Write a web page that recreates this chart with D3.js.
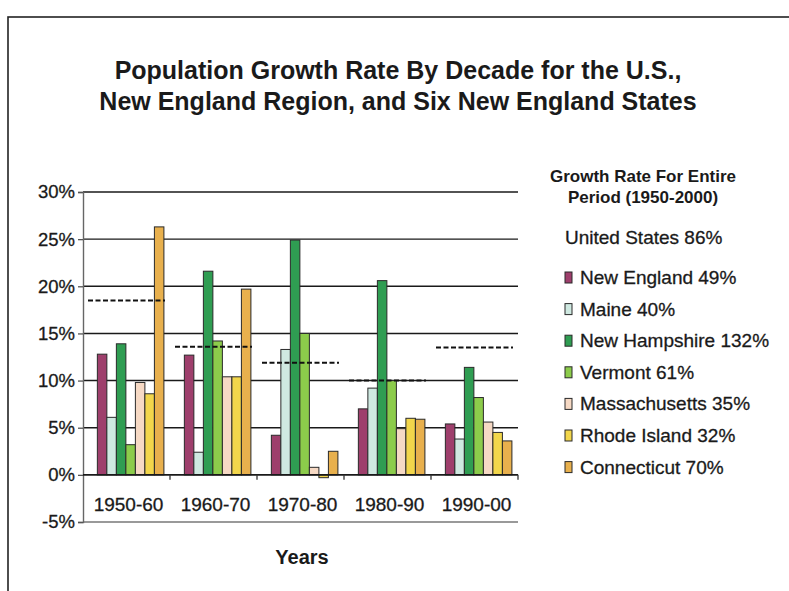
<!DOCTYPE html>
<html>
<head>
<meta charset="utf-8">
<script src="https://cdn.jsdelivr.net/npm/d3@7"></script>
<style>
  html, body { margin: 0; padding: 0; background: #fff; }
  svg { display: block; font-family: "Liberation Sans", Arial, sans-serif; }
</style>
</head>
<body>
<svg id="chart" width="789" height="591"></svg>
<script>
// Decades on the x axis
const decades = ["1950-60", "1960-70", "1970-80", "1980-90", "1990-00"];

// Growth rate (%) per decade for each area
const newEngland    = [12.8, 12.7, 4.2, 7.0, 5.4];
const maine         = [6.1, 2.4, 13.3, 9.2, 3.8];
const newHampshire  = [13.9, 21.6, 24.9, 20.6, 11.4];
const vermont       = [3.2, 14.2, 15.0, 10.0, 8.2];
const massachusetts = [9.8, 10.4, 0.8, 4.9, 5.6];
const rhodeIsland   = [8.6, 10.4, -0.3, 6.0, 4.5];
const connecticut   = [26.3, 19.7, 2.5, 5.9, 3.6];

// U.S. growth rate per decade (dashed reference lines)
const unitedStates  = [18.5, 13.6, 11.9, 10.0, 13.5];

// Legend text: growth over the entire 1950-2000 period
const seriesNames = ["New England", "Maine", "New Hampshire", "Vermont",
                     "Massachusetts", "Rhode Island", "Connecticut"];
const periodGrowth = [49, 40, 132, 61, 35, 32, 70];
const usPeriodGrowth = 86;

const seriesColors = ["#9e3f6c", "#cfe9e1", "#2f9d52", "#8ccc4b",
                      "#f6d9c4", "#f2d64b", "#e8b04d"];

// y axis tick values
const yTicks = [-5, 0, 5, 10, 15, 20, 25, 30];

const seriesValues = [newEngland, maine, newHampshire, vermont,
                      massachusetts, rhodeIsland, connecticut];

const svg = d3.select("#chart");

// outer frame
svg.append("rect")
  .attr("x", 8).attr("y", 17)
  .attr("width", 800).attr("height", 600)
  .attr("fill", "none").attr("stroke", "#222").attr("stroke-width", 1.6);

// title
const title = svg.append("text")
  .attr("text-anchor", "middle")
  .attr("font-weight", "bold")
  .attr("font-size", 25)
  .attr("fill", "#1a1a1a");
title.append("tspan").attr("x", 398).attr("y", 79)
  .text("Population Growth Rate By Decade for the U.S.,");
title.append("tspan").attr("x", 398).attr("y", 110)
  .text("New England Region, and Six New England States");

// scales
const plotLeft = 83, plotRight = 518;
const y = d3.scaleLinear().domain([-5, 30]).range([522, 192]);
const x0 = d3.scaleBand().domain(decades).range([plotLeft, plotRight]);
const bw = x0.bandwidth();
const x1 = d3.scaleBand().domain(seriesNames)
  .range([bw * 0.165, bw * 0.93]);

// horizontal gridlines
svg.append("g")
  .selectAll("line")
  .data(yTicks.filter(v => v > 0))
  .join("line")
  .attr("x1", plotLeft).attr("x2", plotRight)
  .attr("y1", d => y(d)).attr("y2", d => y(d))
  .attr("stroke", "#1a1a1a").attr("stroke-width", 1.4);

// bottom boundary at -5%
svg.append("line")
  .attr("x1", plotLeft).attr("x2", plotRight)
  .attr("y1", y(-5)).attr("y2", y(-5))
  .attr("stroke", "#777").attr("stroke-width", 1.6);

// y axis
const yAxis = svg.append("g")
  .attr("transform", `translate(${plotLeft},0)`)
  .call(d3.axisLeft(y).tickValues(yTicks).tickSize(5).tickPadding(3)
    .tickFormat(d => d + "%"));
yAxis.select(".domain").attr("stroke", "#666").attr("stroke-width", 1.4);
yAxis.selectAll(".tick line").attr("stroke", "#555").attr("stroke-width", 1.3);
yAxis.selectAll(".tick text")
  .attr("font-size", 18.5)
  .attr("font-family", "Liberation Sans, Arial, sans-serif")
  .attr("fill", "#1a1a1a")
  .attr("stroke", "#1a1a1a").attr("stroke-width", 0.3);

// bars
const groups = svg.append("g")
  .selectAll("g")
  .data(decades)
  .join("g")
  .attr("transform", d => `translate(${x0(d)},0)`);

groups.selectAll("rect")
  .data((d, i) => seriesNames.map((s, k) => ({ s, k, v: seriesValues[k][i] })))
  .join("rect")
  .attr("x", d => x1(d.s))
  .attr("width", x1.bandwidth())
  .attr("y", d => y(Math.max(0, d.v)))
  .attr("height", d => Math.abs(y(d.v) - y(0)))
  .attr("fill", d => seriesColors[d.k])
  .attr("stroke", "#2a2a2a")
  .attr("stroke-width", 1);

// x axis at 0%
const xAxis = svg.append("g")
  .attr("transform", `translate(0,${y(0)})`);
xAxis.append("line")
  .attr("x1", plotLeft).attr("x2", plotRight)
  .attr("stroke", "#1a1a1a").attr("stroke-width", 1.6);
xAxis.selectAll("line.tick")
  .data(decades)
  .join("line")
  .attr("class", "tick")
  .attr("x1", d => x0(d) + bw).attr("x2", d => x0(d) + bw)
  .attr("y1", 0).attr("y2", 5)
  .attr("stroke", "#333").attr("stroke-width", 1.3);

// category labels
svg.append("g")
  .selectAll("text")
  .data(decades)
  .join("text")
  .attr("x", d => x0(d) + bw / 2 + 2)
  .attr("y", 511)
  .attr("text-anchor", "middle")
  .attr("font-size", 19)
  .attr("fill", "#1a1a1a")
  .attr("stroke", "#1a1a1a").attr("stroke-width", 0.3)
  .text(d => d);

// U.S. dashed reference lines
svg.append("g")
  .selectAll("line")
  .data(decades)
  .join("line")
  .attr("x1", d => x0(d) + 5)
  .attr("x2", d => x0(d) + bw - 5)
  .attr("y1", (d, i) => y(unitedStates[i]))
  .attr("y2", (d, i) => y(unitedStates[i]))
  .attr("stroke", "#111")
  .attr("stroke-width", 2)
  .attr("stroke-dasharray", "5,2.5");

// x axis title
svg.append("text")
  .attr("x", 302).attr("y", 564)
  .attr("text-anchor", "middle")
  .attr("font-weight", "bold")
  .attr("font-size", 20)
  .attr("fill", "#1a1a1a")
  .text("Years");

// legend
const legendTitle = svg.append("text")
  .attr("text-anchor", "middle")
  .attr("font-weight", "bold")
  .attr("font-size", 17)
  .attr("fill", "#1a1a1a");
legendTitle.append("tspan").attr("x", 643).attr("y", 182).text("Growth Rate For Entire");
legendTitle.append("tspan").attr("x", 643).attr("y", 203).text("Period (1950-2000)");

svg.append("text")
  .attr("x", 565).attr("y", 244)
  .attr("font-size", 19)
  .attr("fill", "#1a1a1a")
  .attr("stroke", "#1a1a1a").attr("stroke-width", 0.3)
  .text(`United States ${usPeriodGrowth}%`);

const legend = svg.append("g")
  .selectAll("g")
  .data(seriesNames)
  .join("g")
  .attr("transform", (d, i) => `translate(565,${284 + i * 31.6})`);
legend.append("rect")
  .attr("x", 0).attr("y", -12)
  .attr("width", 7).attr("height", 11)
  .attr("fill", (d, i) => seriesColors[i])
  .attr("stroke", "#2a2a2a").attr("stroke-width", 1);
legend.append("text")
  .attr("x", 15).attr("y", 0)
  .attr("font-size", 19)
  .attr("fill", "#1a1a1a")
  .attr("stroke", "#1a1a1a").attr("stroke-width", 0.3)
  .text((d, i) => `${d} ${periodGrowth[i]}%`);
</script>
</body>
</html>
